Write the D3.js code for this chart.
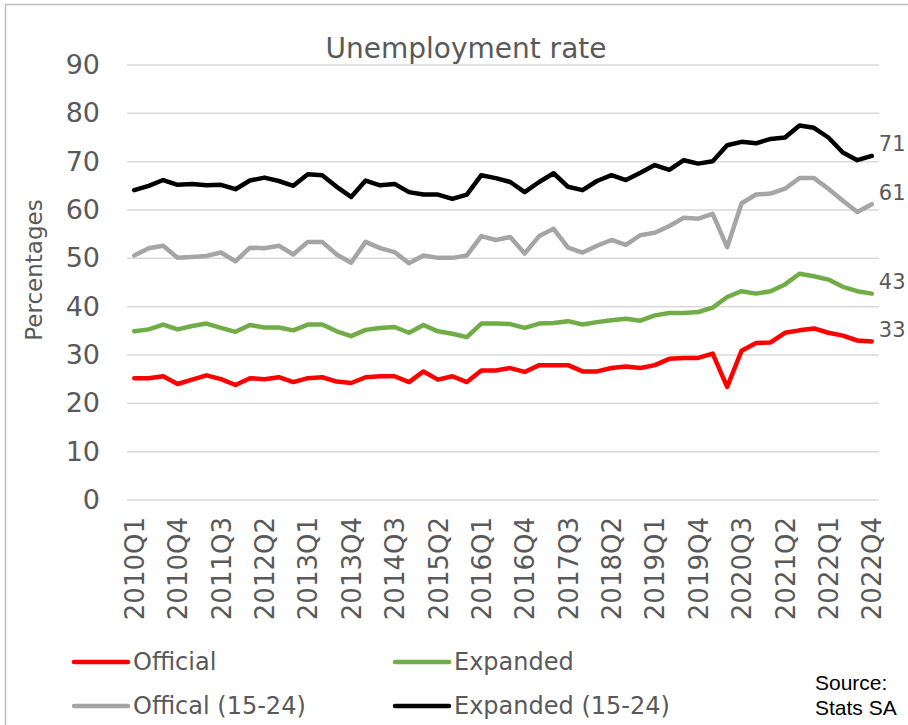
<!DOCTYPE html>
<html><head><meta charset="utf-8">
<script src="https://cdn.jsdelivr.net/npm/d3@7"></script>
<style>body{margin:0;background:#fff}svg{display:block}</style>
</head><body>
<svg id="c" width="908" height="725"></svg>
<script>
const categories = ["2010Q1","2010Q2","2010Q3","2010Q4","2011Q1","2011Q2","2011Q3","2011Q4",
"2012Q1","2012Q2","2012Q3","2012Q4","2013Q1","2013Q2","2013Q3","2013Q4",
"2014Q1","2014Q2","2014Q3","2014Q4","2015Q1","2015Q2","2015Q3","2015Q4",
"2016Q1","2016Q2","2016Q3","2016Q4","2017Q1","2017Q2","2017Q3","2017Q4",
"2018Q1","2018Q2","2018Q3","2018Q4","2019Q1","2019Q2","2019Q3","2019Q4",
"2020Q1","2020Q2","2020Q3","2020Q4","2021Q1","2021Q2","2021Q3","2021Q4",
"2022Q1","2022Q2","2022Q3","2022Q4"];
const tickLabels = ["2010Q1","2010Q4","2011Q3","2012Q2","2013Q1","2013Q4","2014Q3","2015Q2","2016Q1",
"2016Q4","2017Q3","2018Q2","2019Q1","2019Q4","2020Q3","2021Q2","2022Q1","2022Q4"];
const yTicks = [0,10,20,30,40,50,60,70,80,90];

const official = [25.2,25.2,25.6,24.0,24.9,25.8,25.0,23.8,25.2,25.0,25.4,24.4,25.2,25.4,24.5,24.2,
25.4,25.6,25.6,24.4,26.6,24.9,25.6,24.4,26.8,26.8,27.3,26.5,27.9,27.9,27.9,26.6,
26.6,27.3,27.6,27.3,27.9,29.2,29.4,29.4,30.3,23.4,30.9,32.5,32.6,34.6,35.1,35.5,
34.6,34.0,33.0,32.8];
const expanded = [34.9,35.3,36.3,35.3,36.0,36.5,35.6,34.8,36.2,35.7,35.7,35.1,36.3,36.3,34.9,33.9,
35.2,35.6,35.8,34.6,36.2,34.9,34.4,33.7,36.5,36.5,36.4,35.6,36.5,36.6,37.0,36.3,
36.8,37.2,37.5,37.1,38.2,38.7,38.7,38.9,39.8,42.0,43.2,42.7,43.2,44.6,46.8,46.3,
45.6,44.1,43.2,42.7];
const official1524 = [50.6,52.1,52.6,50.1,50.3,50.5,51.2,49.4,52.2,52.1,52.6,50.8,53.4,53.4,50.8,49.1,
53.4,52.1,51.3,49.0,50.6,50.1,50.1,50.6,54.6,53.8,54.4,51.0,54.6,56.1,52.2,51.2,
52.6,53.8,52.8,54.8,55.3,56.7,58.4,58.2,59.2,52.3,61.4,63.2,63.4,64.4,66.6,66.6,
64.4,61.9,59.6,61.2];
const expanded1524 = [64.1,65.0,66.2,65.2,65.4,65.1,65.2,64.3,66.1,66.7,66.0,65.0,67.4,67.2,64.8,62.7,
66.1,65.1,65.4,63.7,63.2,63.2,62.3,63.2,67.2,66.6,65.8,63.7,65.8,67.6,64.8,64.1,
66.0,67.2,66.2,67.7,69.3,68.3,70.3,69.6,70.1,73.4,74.1,73.8,74.7,75.0,77.5,77.0,
75.0,71.9,70.3,71.2];
const seriesNames = ["Official","Expanded","Offical (15-24)","Expanded (15-24)"];
const seriesColors = ["#ff0000","#70ad47","#a5a5a5","#000000"];
const endLabels = ["33","43","61","71"];

const series = [official, expanded, official1524, expanded1524];
const svg = d3.select("#c");
const FONT = "'DejaVu Sans', sans-serif";
const TXT = "#595959";

svg.append("rect").attr("x",5.5).attr("y",4.5).attr("width",930).attr("height",760)
  .attr("fill","#fff").attr("stroke","#bfbfbf").attr("stroke-width",1.5);

const x = d3.scalePoint().domain(categories).range([127,879]).padding(0.5);
const y = d3.scaleLinear().domain([0,90]).range([500,65]);

// gridlines
svg.append("g").selectAll("line").data(yTicks).join("line")
  .attr("x1",127).attr("x2",879).attr("y1",d=>y(d)).attr("y2",d=>y(d))
  .attr("stroke","#d9d9d9").attr("stroke-width",1.5);

// y axis
const yAxis = svg.append("g").attr("transform","translate(108,0)")
  .call(d3.axisLeft(y).tickValues(yTicks).tickSize(0).tickPadding(8));
yAxis.select(".domain").remove();
yAxis.selectAll("text").attr("font-family",FONT).attr("font-size",27).attr("fill",TXT);

// x axis
const xAxis = svg.append("g").attr("transform","translate(0,512)")
  .call(d3.axisBottom(x).tickValues(tickLabels).tickSize(0).tickPadding(0));
xAxis.select(".domain").remove();
xAxis.selectAll("text").attr("font-family",FONT).attr("font-size",26).attr("fill",TXT)
  .attr("transform","rotate(-90)").attr("text-anchor","end").attr("x",-5).attr("y",0).attr("dy","0.35em");

// lines
const line = d3.line().x((d,i)=>x(categories[i])).y(d=>y(d));
const order = [2,3,1,0];
svg.append("g").selectAll("path").data(order).join("path")
  .attr("d",k=>line(series[k])).attr("fill","none")
  .attr("stroke",k=>seriesColors[k]).attr("stroke-width",4.5)
  .attr("stroke-linejoin","round").attr("stroke-linecap","round");

// end labels
svg.append("g").selectAll("text").data([0,1,2,3]).join("text")
  .attr("x",x(categories[categories.length-1])+7)
  .attr("y",k=>y(series[k][series[k].length-1])-12)
  .attr("dy","0.35em").attr("font-family",FONT).attr("font-size",21).attr("fill",TXT)
  .text(k=>endLabels[k]);

// title
svg.append("text").attr("x",466).attr("y",48).attr("dy","0.35em").attr("text-anchor","middle")
  .attr("font-family",FONT).attr("font-size",28).attr("fill",TXT).text("Unemployment rate");

// y title
svg.append("text").attr("transform","translate(34,270) rotate(-90)").attr("dy","0.35em")
  .attr("text-anchor","middle").attr("font-family",FONT).attr("font-size",23).attr("fill",TXT)
  .text("Percentages");

// legend
const legPos = [[74,662],[395,662],[74,706],[395,706]];
const leg = svg.append("g").selectAll("g").data([0,1,2,3]).join("g")
  .attr("transform",k=>`translate(${legPos[k][0]},${legPos[k][1]})`);
leg.append("line").attr("x1",0).attr("x2",54).attr("y1",0).attr("y2",0)
  .attr("stroke",k=>seriesColors[k]).attr("stroke-width",4.5).attr("stroke-linecap","round");
leg.append("text").attr("x",59).attr("dy","0.35em").attr("font-family",FONT).attr("font-size",24)
  .attr("fill",TXT).text(k=>seriesNames[k]);

// source
const src = svg.append("text").attr("font-family","'Liberation Sans Narrow','Liberation Sans',sans-serif")
  .attr("font-size",21).attr("fill","#000");
src.append("tspan").attr("x",815).attr("y",690).text("Source:");
src.append("tspan").attr("x",815).attr("y",715).text("Stats SA");
</script>
</body></html>
